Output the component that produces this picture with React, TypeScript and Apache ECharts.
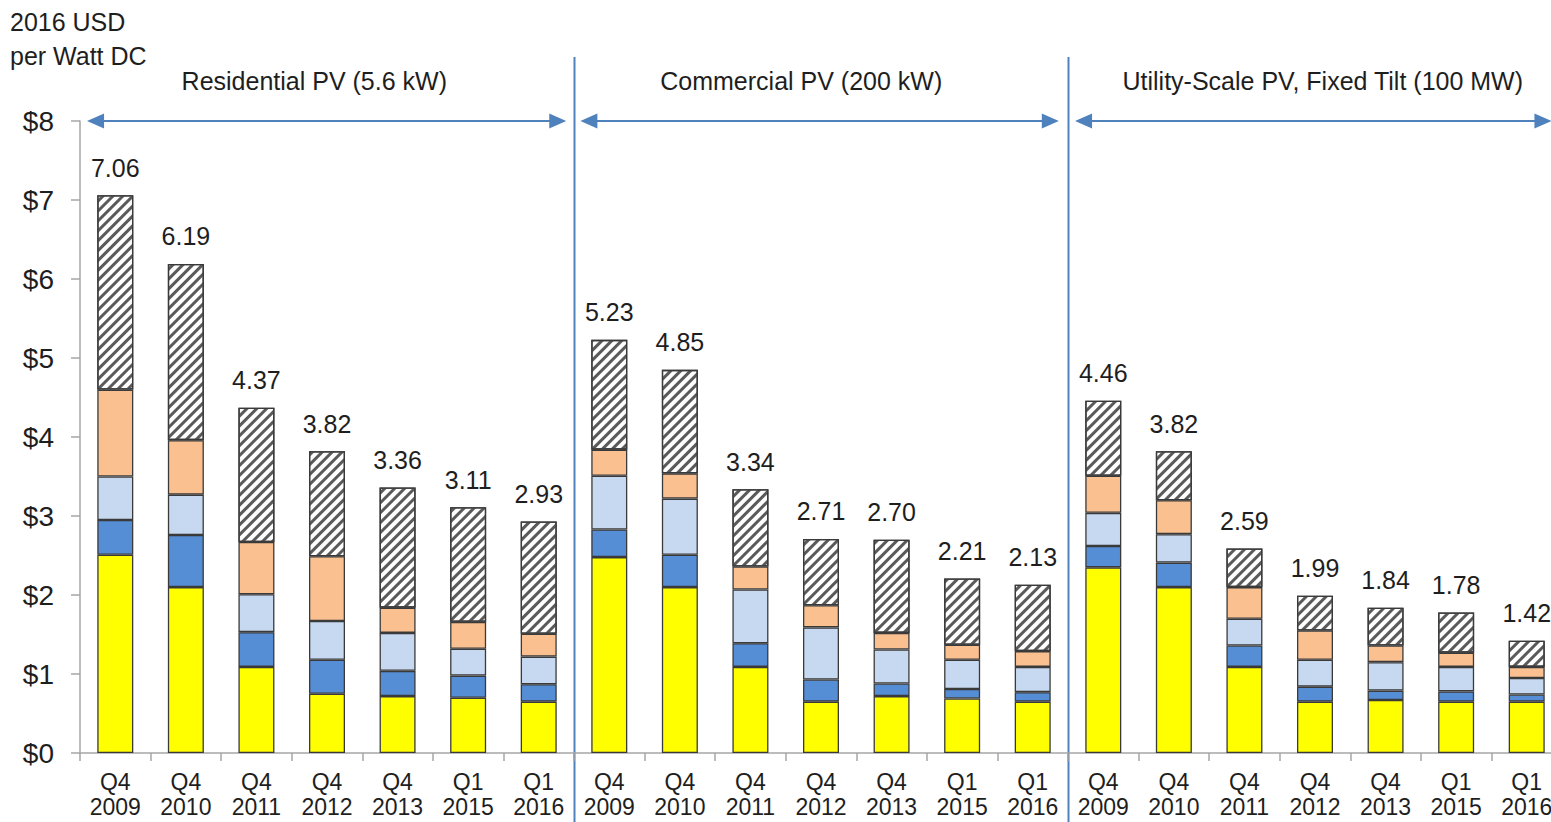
import React, { useEffect, useRef } from "react";
import * as echarts from "echarts";

const periods = ["Q4\n2009", "Q4\n2010", "Q4\n2011", "Q4\n2012", "Q4\n2013", "Q1\n2015", "Q1\n2016"];
const categories = [...periods, ...periods, ...periods];

const groupTitles = ["Residential PV (5.6 kW)", "Commercial PV (200 kW)", "Utility-Scale PV, Fixed Tilt (100 MW)"];
const yTickLabels = ["$0", "$1", "$2", "$3", "$4", "$5", "$6", "$7", "$8"];

// Residential | Commercial | Utility
const moduleCost = [
  2.51, 2.10, 1.09, 0.75, 0.72, 0.70, 0.65,
  2.48, 2.10, 1.09, 0.65, 0.72, 0.69, 0.65,
  2.35, 2.10, 1.09, 0.65, 0.67, 0.65, 0.65,
];
const inverterCost = [
  0.44, 0.66, 0.44, 0.43, 0.32, 0.28, 0.22,
  0.35, 0.41, 0.30, 0.28, 0.16, 0.12, 0.12,
  0.27, 0.31, 0.27, 0.19, 0.12, 0.13, 0.09,
];
const hardwareBos = [
  0.55, 0.51, 0.48, 0.49, 0.48, 0.34, 0.35,
  0.68, 0.71, 0.68, 0.66, 0.43, 0.37, 0.32,
  0.42, 0.36, 0.34, 0.34, 0.36, 0.31, 0.21,
];
const installLabor = [
  1.10, 0.69, 0.66, 0.82, 0.32, 0.34, 0.29,
  0.33, 0.32, 0.29, 0.28, 0.21, 0.19, 0.20,
  0.47, 0.43, 0.40, 0.37, 0.21, 0.18, 0.14,
];
const softCosts = [
  2.46, 2.23, 1.70, 1.33, 1.52, 1.45, 1.42,
  1.39, 1.31, 0.98, 0.84, 1.18, 0.84, 0.84,
  0.95, 0.62, 0.49, 0.44, 0.48, 0.51, 0.33,
];
const totals = [
  7.06, 6.19, 4.37, 3.82, 3.36, 3.11, 2.93,
  5.23, 4.85, 3.34, 2.71, 2.70, 2.21, 2.13,
  4.46, 3.82, 2.59, 1.99, 1.84, 1.78, 1.42,
];

const FONT = "'Liberation Sans', Arial, Helvetica, sans-serif";
const TEXT = "#1e1e1e";
const ACCENT = "#4F81BD";
const BORDER = "#3a3a3a";

export default function App() {
  const ref = useRef<HTMLDivElement>(null);

  useEffect(() => {
    const chart = echarts.init(ref.current!, null, { renderer: "svg" });

    const barStyle = (color: string) => ({ color, borderColor: BORDER, borderWidth: 1.3 });

    const option: any = {
      animation: false,
      backgroundColor: "#ffffff",
      textStyle: { fontFamily: FONT },
      grid: { left: 80, top: 121, height: 632, width: 1482, containLabel: false },
      xAxis: [
        {
          type: "category",
          data: categories,
          axisLine: { show: true, lineStyle: { color: "#a6a6a6", width: 1.5 } },
          axisTick: { show: true, length: 8, interval: 0, lineStyle: { color: "#a6a6a6", width: 1.5 } },
          axisLabel: { interval: 0, fontSize: 23, lineHeight: 25, margin: 16, color: TEXT, fontFamily: FONT },
        },
        { type: "value", min: 0, max: 21, show: false },
      ],
      yAxis: {
        type: "value",
        min: 0,
        max: 8,
        interval: 1,
        axisLine: { show: true, lineStyle: { color: "#a6a6a6", width: 1.5 } },
        axisTick: { show: true, length: 9, lineStyle: { color: "#a6a6a6", width: 1.5 } },
        splitLine: { show: false },
        axisLabel: {
          fontSize: 28,
          margin: 26,
          color: TEXT,
          fontFamily: FONT,
          formatter: (v: number) => yTickLabels[Math.round(v)] ?? "",
        },
      },
      series: [
        { name: "Module", type: "bar", stack: "cost", barWidth: 36, data: moduleCost, itemStyle: barStyle("#FFFF00") },
        { name: "Inverter", type: "bar", stack: "cost", barWidth: 36, data: inverterCost, itemStyle: barStyle("#558ED5") },
        { name: "Hardware BOS", type: "bar", stack: "cost", barWidth: 36, data: hardwareBos, itemStyle: barStyle("#C6D9F1") },
        { name: "Installation labor", type: "bar", stack: "cost", barWidth: 36, data: installLabor, itemStyle: barStyle("#FAC090") },
        {
          name: "Soft costs",
          type: "bar",
          stack: "cost",
          barWidth: 36,
          data: softCosts,
          itemStyle: {
            color: "#ffffff",
            borderColor: BORDER,
            borderWidth: 1.3,
            decal: {
              symbol: "rect",
              symbolSize: 1,
              dashArrayX: [1, 0],
              dashArrayY: [3, 4],
              rotation: -Math.PI / 4,
              color: "#5a5a5a",
            },
          },
          label: {
            show: true,
            position: "top",
            distance: 15,
            fontSize: 25,
            color: TEXT,
            fontFamily: FONT,
            formatter: (p: any) => totals[p.dataIndex].toFixed(2),
          },
        },
        { name: "frame", type: "scatter", xAxisIndex: 1, data: [], silent: true },
      ],
    };

    chart.setOption(option);

    const px = (u: number) => chart.convertToPixel({ xAxisIndex: 1 }, u) as number;
    const py = (v: number) => chart.convertToPixel({ yAxisIndex: 0 }, v) as number;

    const yTop = py(8);
    const elements: any[] = [];

    // unit label
    elements.push({
      type: "text",
      left: 10,
      top: 5,
      style: { text: "2016 USD\nper Watt DC", fontSize: 25, lineHeight: 34, fill: TEXT, fontFamily: FONT },
    });

    // separators
    [7, 14].forEach((u) => {
      const x = Math.round(px(u)) + 0.5;
      elements.push({
        type: "line",
        shape: { x1: x, y1: 57, x2: x, y2: 822 },
        style: { stroke: ACCENT, lineWidth: 2 },
      });
    });

    // arrows
    const spans: [number, number][] = [
      [0.1, 6.89],
      [7.09, 13.87],
      [14.1, 20.85],
    ];
    const head = 17;
    const half = 7.5;
    spans.forEach(([a, b]) => {
      const x1 = px(a);
      const x2 = px(b);
      elements.push({
        type: "line",
        shape: { x1: x1 + head - 2, y1: yTop, x2: x2 - head + 2, y2: yTop },
        style: { stroke: ACCENT, lineWidth: 2 },
      });
      elements.push({
        type: "polygon",
        shape: { points: [[x1, yTop], [x1 + head, yTop - half], [x1 + head, yTop + half]] },
        style: { fill: ACCENT },
      });
      elements.push({
        type: "polygon",
        shape: { points: [[x2, yTop], [x2 - head, yTop - half], [x2 - head, yTop + half]] },
        style: { fill: ACCENT },
      });
    });

    // group titles
    const titleCenters = [3.32, 10.22, 17.61];
    groupTitles.forEach((t, i) => {
      elements.push({
        type: "text",
        x: px(titleCenters[i]),
        y: yTop - 40,
        style: {
          text: t,
          fontSize: 25,
          fill: TEXT,
          fontFamily: FONT,
          align: "center",
          verticalAlign: "middle",
        },
      });
    });

    chart.setOption({ graphic: { elements } });

    return () => chart.dispose();
  }, []);

  return (
    <div
      style={{ position: "fixed", left: 0, top: 0, width: 1551, height: 822, overflow: "hidden", background: "#fff" }}
    >
      <div ref={ref} style={{ width: 1575, height: 822 }} />
    </div>
  );
}
